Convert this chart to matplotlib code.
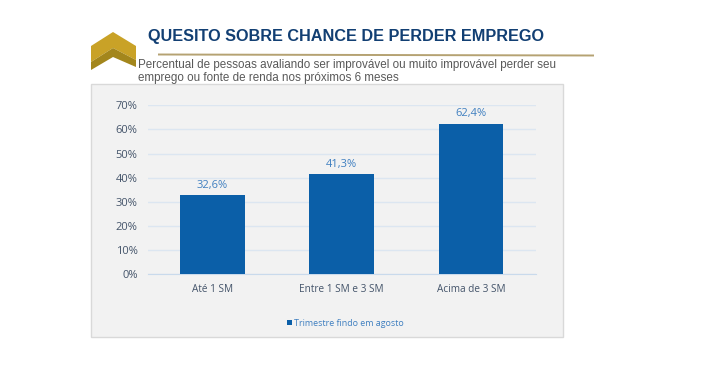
import matplotlib
matplotlib.use('Agg')
import matplotlib.pyplot as plt
import matplotlib.patches as patches

W, H = 703, 369

categories = ['Até 1 SM', 'Entre 1 SM e 3 SM', 'Acima de 3 SM']
values = [32.6, 41.3, 62.4]
value_labels = ['32,6%', '41,3%', '62,4%']
yticks = [0, 10, 20, 30, 40, 50, 60, 70]
legend_label = 'Trimestre findo em agosto'
title = 'QUESITO SOBRE CHANCE DE PERDER EMPREGO'
subtitle = ('Percentual de pessoas avaliando ser improvável ou muito improvável perder seu\n'
            'emprego ou fonte de renda nos próximos 6 meses')

BLUE = '#0b5fa8'


def px_axes(fig, x0, y0, x1, y1):
    # pixel box, y measured from the top
    return fig.add_axes([x0 / W, 1 - y1 / H, (x1 - x0) / W, (y1 - y0) / H])


fig = plt.figure(figsize=(W / 100, H / 100), dpi=100, facecolor='white')

# whole figure overlay in pixel coords for header and panel
bg = fig.add_axes([0, 0, 1, 1])
bg.set_xlim(0, W)
bg.set_ylim(H, 0)
bg.axis('off')

bg.add_patch(patches.Rectangle((91, 84), 472, 253, facecolor='#f2f2f2',
                               edgecolor='#d9d9d9', linewidth=1))

# chevron logo
bg.add_patch(patches.Polygon([(91, 46), (113, 32), (136, 46), (136, 60), (113, 48), (91, 62)],
                             closed=True, facecolor='#c9a227', edgecolor='none'))
bg.add_patch(patches.Polygon([(91, 62), (113, 48), (136, 60), (136, 67), (113, 57), (91, 70)],
                             closed=True, facecolor='#a3861c', edgecolor='none'))

bg.plot([158, 594], [54.5, 55.5], color='#b5a272', linewidth=1.4, solid_capstyle='butt')

bg.text(148.5, 37, title, family='Liberation Sans', fontweight='bold', fontsize=11.7,
        color='#123f73', ha='left', va='center')
bg.text(138, 71.3, subtitle, family='Liberation Sans', fontsize=8.35, color='#595959',
        ha='left', va='center', linespacing=1.12)

ax = px_axes(fig, 148, 105.3, 535.5, 274)
ax.patch.set_alpha(0)
x = range(len(categories))
bars = ax.bar(x, values, width=0.5, color=BLUE, zorder=3)
ax.set_xlim(-0.5, 2.5)
ax.set_ylim(0, 70)
ax.set_yticks(yticks)
ax.set_yticklabels([f'{v}%' for v in yticks], family='Open Sans', fontsize=8, color='#44546a')
ax.set_xticks(list(x))
ax.set_xticklabels(categories, family='Open Sans', fontsize=7.2, color='#44546a')
ax.tick_params(axis='both', length=0)
ax.tick_params(axis='x', pad=7)
ax.tick_params(axis='y', pad=7.5)
ax.grid(axis='y', color='#dce6f1', linewidth=1, zorder=0)
ax.set_axisbelow(True)
for s in ['top', 'right', 'left']:
    ax.spines[s].set_visible(False)
ax.spines['bottom'].set_color('#c9daec')

for bar, lab in zip(bars, value_labels):
    ax.annotate(lab, (bar.get_x() + bar.get_width() / 2, bar.get_height()),
                xytext=(0, 3), textcoords='offset points', ha='center', va='bottom',
                family='Open Sans', fontsize=8, color='#3f7fc0')

# legend
bg.add_patch(patches.Rectangle((287, 320), 5, 5, facecolor=BLUE, edgecolor='none'))
bg.text(294, 323, legend_label, family='Open Sans', fontsize=6.4, color='#3f7fc0',
        ha='left', va='center')

fig.savefig('out.png', dpi=100)
